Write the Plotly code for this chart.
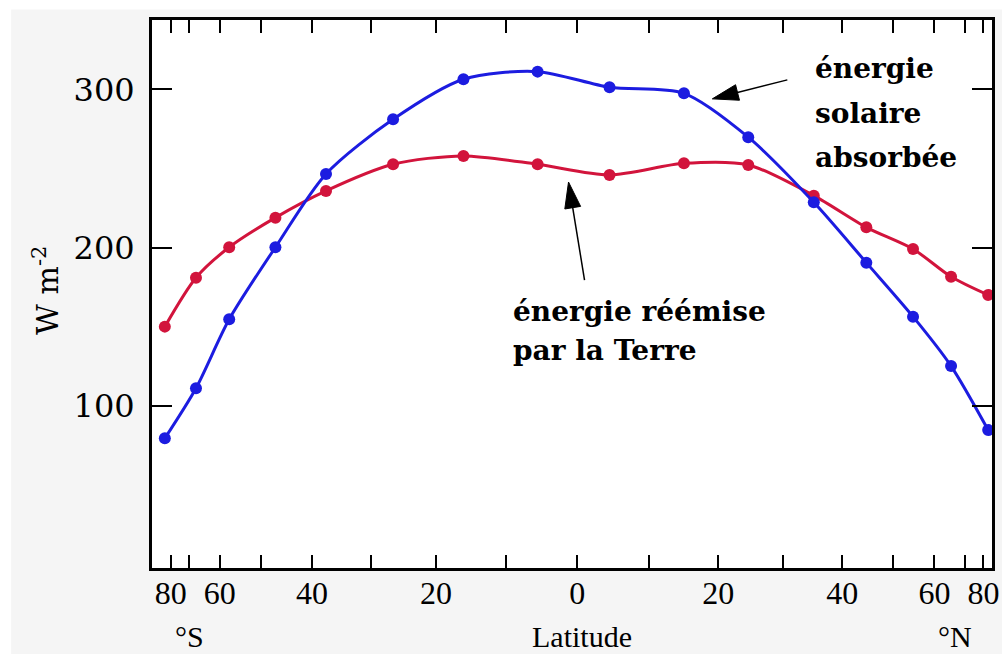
import math
import plotly.graph_objects as go

# ---- data ----
latitudes = [-88, -67.5, -57.5, -47, -37.5, -26.5, -16, -5.5,
             4.5, 15, 24.5, 35, 44.5, 54.5, 65, 85]
absorbed_solar = [79.7, 111.3, 154.8, 200.3, 246.6, 281.1, 306.4, 311.2,
                  301.3, 297.5, 269.8, 228.7, 190.6, 156.5, 125.3, 84.9]
emitted_earth = [150.2, 181.1, 200.3, 219.0, 235.9, 252.7, 258.0, 252.7,
                 246.0, 253.3, 252.3, 232.9, 212.9, 199.2, 181.7, 170.2]

tick_lats = [-80, -70, -60, -50, -40, -30, -20, -10, 0, 10, 20, 30, 40, 50, 60, 70, 80]
tick_text = ["80", " ", "60", " ", "40", " ", "20", " ", "0", " ", "20", " ", "40", " ", "60", " ", "80"]
y_ticks = [100, 200, 300]

BLUE = "#1c1ce0"
RED = "#d2143c"


def sinlat(v):
    return math.sin(math.radians(v))


xs = [sinlat(v) for v in latitudes]

fig = go.Figure()
fig.add_trace(go.Scatter(
    x=xs, y=emitted_earth, mode="lines+markers",
    line=dict(color=RED, width=3, shape="spline", smoothing=0.8),
    marker=dict(color=RED, size=12, symbol="circle"),
    showlegend=False, hoverinfo="skip"))
fig.add_trace(go.Scatter(
    x=xs, y=absorbed_solar, mode="lines+markers",
    line=dict(color=BLUE, width=3, shape="spline", smoothing=0.8),
    marker=dict(color=BLUE, size=12, symbol="circle"),
    showlegend=False, hoverinfo="skip"))

# plot-area geometry, in window pixels (page margin removed below)
W, H = 1002, 654
PLOT_L, PLOT_R, PLOT_T, PLOT_B = 152, 999, 20, 568
L, R, T, B = PLOT_L, W - PLOT_R, PLOT_T, H - PLOT_B
PW, PH = PLOT_R - PLOT_L, PLOT_B - PLOT_T


def px(xp):
    return (xp - PLOT_L) / PW


def py(yp):
    return (PLOT_B - yp) / PH


shapes = []
# thin white strips at the window edges (gray page starts ~10px in)
shapes.append(dict(type="rect", xref="paper", yref="paper", x0=px(-5), x1=px(10),
                   y0=py(-5), y1=py(660), fillcolor="white", line=dict(width=0), layer="below"))
shapes.append(dict(type="rect", xref="paper", yref="paper", x0=px(-5), x1=px(1010),
                   y0=py(9.5), y1=py(-5), fillcolor="white", line=dict(width=0), layer="below"))


def arrow(tip_x, tip_y, tail_dx, tail_dy, head_len=26, head_half=8):
    """tip in data coords; tail offset in screen pixels (y down)."""
    n = math.hypot(tail_dx, tail_dy)
    ux, uy = tail_dx / n, -tail_dy / n  # shape pixel coords (y up)
    bx, by = ux * head_len, uy * head_len
    px1, py1 = -uy * head_half, ux * head_half
    path = (f"M0,0 L{bx + px1:.2f},{by + py1:.2f} "
            f"L{bx - px1:.2f},{by - py1:.2f} Z")
    shapes.append(dict(type="path", xref="x", yref="y", xsizemode="pixel", ysizemode="pixel",
                       xanchor=tip_x, yanchor=tip_y, path=path,
                       fillcolor="black", line=dict(color="black", width=1)))
    shapes.append(dict(type="line", xref="x", yref="y", xsizemode="pixel", ysizemode="pixel",
                       xanchor=tip_x, yanchor=tip_y, x0=bx * 0.8, y0=by * 0.8,
                       x1=tail_dx, y1=-tail_dy, line=dict(color="black", width=1.5)))


arrow(0.3276, 294.0, 75, -19)
arrow(-0.0209, 241.5, 16, 98)

ann = []
bold = dict(family="DejaVu Serif", size=28, color="black")
for txt, yy in [("<b>énergie</b>", 69), ("<b>solaire</b>", 113), ("<b>absorbée</b>", 157)]:
    ann.append(dict(text=txt, xref="paper", yref="paper", x=px(819), y=py(yy),
                    xanchor="left", yanchor="middle", showarrow=False, font=bold))
for txt, yy in [("<b>énergie réémise</b>", 311), ("<b>par la Terre</b>", 350)]:
    ann.append(dict(text=txt, xref="paper", yref="paper", x=px(514), y=py(yy),
                    xanchor="left", yanchor="middle", showarrow=False, font=bold))

thin = dict(family="Liberation Serif", size=30, color="black")
ann.append(dict(text="°S", xref="paper", yref="paper", x=px(190), y=py(636),
                xanchor="center", yanchor="middle", showarrow=False, font=thin))
ann.append(dict(text="Latitude", xref="paper", yref="paper", x=px(586), y=py(636),
                xanchor="center", yanchor="middle", showarrow=False, font=thin))
ann.append(dict(text="°N", xref="paper", yref="paper", x=px(962), y=py(636),
                xanchor="center", yanchor="middle", showarrow=False, font=thin))
ann.append(dict(text="W m<sup>-2</sup>", xref="paper", yref="paper", x=px(45), y=py(290),
                xanchor="center", yanchor="middle", textangle=-90, showarrow=False,
                font=dict(family="DejaVu Serif", size=30, color="black")))

fig.update_layout(
    width=W, height=H,
    margin=dict(l=L, r=R, t=T, b=B, pad=0),
    paper_bgcolor="#f5f5f5",
    plot_bgcolor="white",
    shapes=shapes,
    annotations=ann,
    xaxis=dict(
        range=[-1.0305, 1.0055],
        tickmode="array",
        tickvals=[sinlat(v) for v in tick_lats],
        ticktext=tick_text,
        tickangle=0,
        ticklabeloverflow="allow",
        ticks="inside", ticklen=13, tickwidth=2, tickcolor="black",
        showline=True, linewidth=3, linecolor="black", mirror="ticks",
        showgrid=False, zeroline=False,
        tickfont=dict(family="Liberation Serif", size=32, color="black"),
        ticklabelstandoff=-5,
    ),
    yaxis=dict(
        range=[-2.2, 343.8],
        tickmode="array",
        tickvals=y_ticks,
        ticks="inside", ticklen=20, tickwidth=2, tickcolor="black",
        showline=True, linewidth=3, linecolor="black", mirror="ticks",
        showgrid=False, zeroline=False,
        tickfont=dict(family="DejaVu Serif", size=32, color="black"),
        ticklabelstandoff=8,
    ),
)

fig.write_html(
    "out.html",
    config={"displayModeBar": False},
    post_script="document.body.style.margin='0';document.body.style.overflow='hidden';",
)
